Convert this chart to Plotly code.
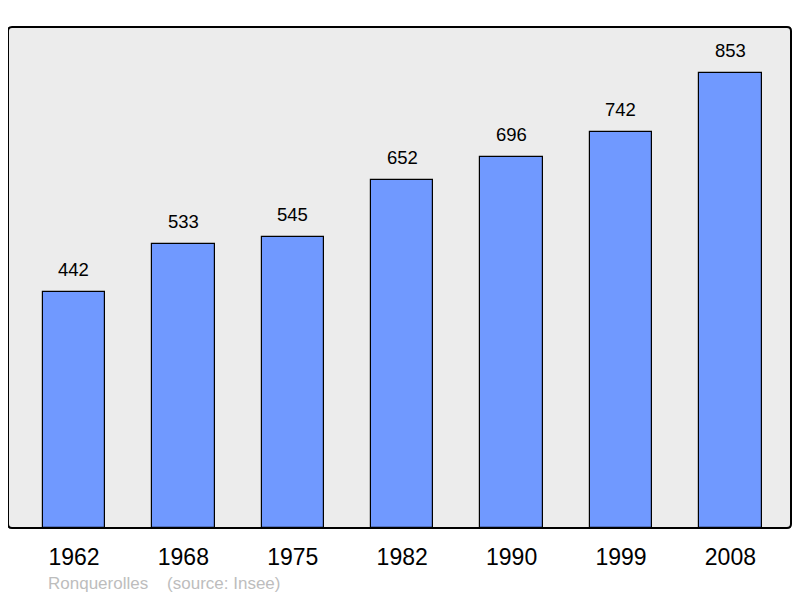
import plotly.graph_objects as go

years = ["1962", "1968", "1975", "1982", "1990", "1999", "2008"]
population = [442, 533, 545, 652, 696, 742, 853]

xs = list(range(len(years)))

fig = go.Figure()
fig.add_trace(go.Bar(
    x=xs, y=population, width=0.57,
    marker=dict(color="#7099ff", line=dict(color="#000000", width=1.2)),
    hoverinfo="skip",
))

for x, v in zip(xs, population):
    fig.add_annotation(x=x, y=v, text=str(v), showarrow=False,
                       yanchor="bottom", yshift=10,
                       font=dict(family="Liberation Sans, Arial", size=18.5, color="#000000"))

# rounded frame around the plot area (paper coordinates)
rx, ry = 4 / 783, 4 / 501
path = (f"M {rx},0 L {1-rx},0 Q 1,0 1,{ry} L 1,{1-ry} Q 1,1 {1-rx},1 "
        f"L {rx},1 Q 0,1 0,{1-ry} L 0,{ry} Q 0,0 {rx},0 Z")
fig.add_shape(type="path", xref="paper", yref="paper", path=path,
              line=dict(color="#000000", width=2), layer="above")

fig.add_annotation(xref="paper", yref="paper", x=(46 - 8) / 783, y=-(583 - 528) / 501,
                   xanchor="left", yanchor="middle", showarrow=False,
                   text="Ronquerolles &nbsp;&nbsp;&nbsp;(source: Insee)",
                   font=dict(family="Liberation Sans, Arial", size=17, color="#bdbdbd"))

fig.update_layout(
    width=792, height=590,
    margin=dict(l=0, r=9, t=19, b=70, pad=0),
    paper_bgcolor="#ffffff", plot_bgcolor="#ececec",
    showlegend=False,
    xaxis=dict(range=[-0.603, 6.554], tickmode="array", tickvals=xs, ticktext=years,
               showgrid=False, zeroline=False, ticks="", ticklen=0, ticklabelstandoff=13,
               tickfont=dict(family="Liberation Sans, Arial", size=23, color="#000000")),
    yaxis=dict(range=[0, 939], showgrid=False, zeroline=False, showticklabels=False),
    bargap=0,
)
fig.write_html("out.html")
